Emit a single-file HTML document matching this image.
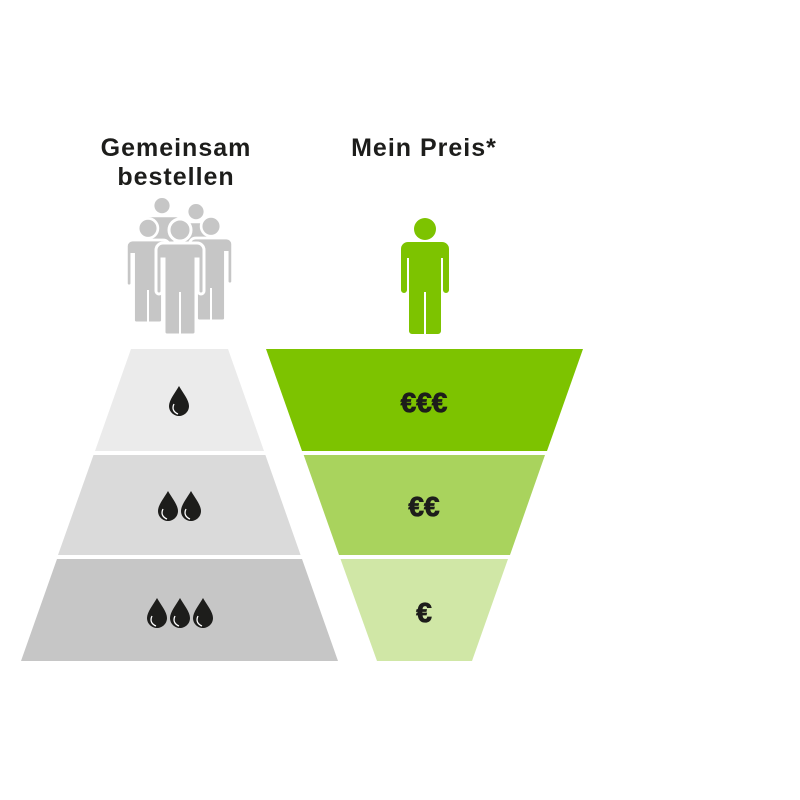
<!DOCTYPE html>
<html><head><meta charset="utf-8"><style>
body{margin:0;background:#fff;}
svg{display:block}
</style></head><body>
<svg width="800" height="800" viewBox="0 0 800 800" xmlns="http://www.w3.org/2000/svg">
<defs>
<g id="drop"><path d="M0,-15 C4,-8 10,-1 10,5 C10,11 5,15 0,15 C-5,15 -10,11 -10,5 C-10,-1 -4,-8 0,-15Z" fill="#1d1d1b"/><path d="M-5,3 C-7,7 -6,11 -1,13" stroke="#fff" stroke-width="1.3" fill="none"/></g>
<g id="person">
<circle cx="0" cy="-53" r="11"/>
<path d="M-17,-40 H17 A7,7 0 0 1 24,-33 V8 A3,3 0 0 1 18,8 V-24 H16 V49 A3,3 0 0 1 13,52 H-13 A3,3 0 0 1 -16,49 V-24 H-18 V8 A3,3 0 0 1 -24,8 V-33 A7,7 0 0 1 -17,-40Z"/>
</g>
</defs>
<g font-family="Liberation Sans, sans-serif" font-weight="bold" font-size="25" fill="#1d1d1b" text-anchor="middle" letter-spacing="1">
<text x="176" y="156">Gemeinsam</text>
<text x="176" y="185">bestellen</text>
<text x="424" y="156">Mein Preis*</text>
</g>
<!-- people group -->
<g fill="#c6c6c6" stroke="#fff" stroke-width="3">
<use href="#person" transform="translate(162,248) scale(0.8)"/>
<use href="#person" transform="translate(196,254) scale(0.8)"/>
<use href="#person" transform="translate(148,276) scale(0.9)"/>
<use href="#person" transform="translate(211,274) scale(0.9)"/>
<use href="#person" transform="translate(180,283) scale(1)"/>
</g>
<line x1="148" y1="290" x2="148" y2="324" stroke="#fff" stroke-width="2"/>
<line x1="211" y1="288" x2="211" y2="322" stroke="#fff" stroke-width="2"/>
<line x1="180" y1="292" x2="180" y2="336" stroke="#fff" stroke-width="2"/>
<use href="#person" fill="#7dc300" transform="translate(425,282)"/>
<line x1="425" y1="292" x2="425" y2="334" stroke="#fff" stroke-width="2"/>
<!-- pyramid -->
<polygon points="131,349 228,349 264,451 95,451" fill="#ebebeb"/>
<polygon points="93.5,455 265.4,455 300.6,555 58,555" fill="#dadada"/>
<polygon points="57,559 302,559 338,661 21,661" fill="#c6c6c6"/>
<!-- funnel -->
<polygon points="266,349 583,349 547,451 302,451" fill="#7dc300"/>
<polygon points="303.7,455 545,455 510,555 339,555" fill="#a9d35d"/>
<polygon points="340.5,559 508,559 472,661 377,661" fill="#d0e7a6"/>
<use href="#drop" x="179" y="401"/>
<use href="#drop" x="168" y="506"/><use href="#drop" x="191" y="506"/>
<use href="#drop" x="157" y="613"/><use href="#drop" x="180" y="613"/><use href="#drop" x="203" y="613"/>
<g font-family="Liberation Sans, sans-serif" font-weight="bold" font-size="28" fill="#1d1d1b" stroke="#1d1d1b" stroke-width="0.8" text-anchor="middle">
<text x="424" y="412">€€€</text>
<text x="424" y="516">€€</text>
<text x="424" y="622">€</text>
</g>
</svg>
</body></html>
